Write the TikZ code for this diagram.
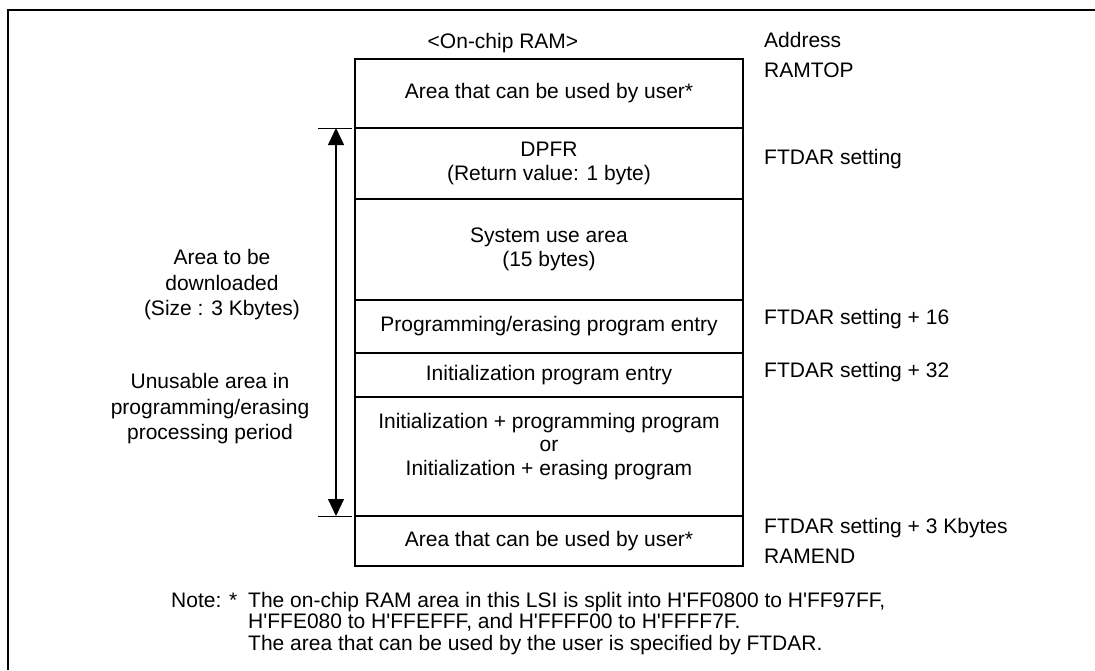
\documentclass[tikz,border=0pt]{standalone}
\usepackage{fontspec}
\setmainfont{Liberation Sans}
\usetikzlibrary{positioning,arrows.meta}

\newcommand{\haddr}[1]{H\textquotesingle#1}

\begin{document}
\begin{tikzpicture}[
  x=1pt, y=-1pt,
  every node/.style={font=\fontsize{21}{23.5}\selectfont, inner sep=0pt},
  row/.style={draw, line width=1.1pt, minimum width=388pt, outer sep=0pt,
              align=center},
  addr/.style={anchor=base west},
  side/.style={align=center, font=\fontsize{21}{25.5}\selectfont},
  dimarr/.style={{Triangle[length=17pt,width=16pt]}-{Triangle[length=17pt,width=16pt]},
                 line width=1.1pt},
  tick/.style={line width=0.9pt},
  frame/.style={line width=2.6pt}
]
  \useasboundingbox (0,0) rectangle (1095,670);
  \draw[frame] (8,670) -- (8,10) -- (1095,10);

  % RAM map
  \node[row, minimum height=69pt, anchor=north] (user1) at (549,59) {Area that can be used by user*};
  \node[row, minimum height=71pt, below=0pt of user1] (dpfr) {DPFR\\(Return value: 1 byte)};
  \node[row, minimum height=101pt, below=0pt of dpfr] (sysuse) {System use area\\(15 bytes)};
  \node[row, minimum height=53pt, below=0pt of sysuse] (pgentry) {Programming/erasing program entry};
  \node[row, minimum height=44pt, below=0pt of pgentry] (inentry) {Initialization program entry};
  \node[row, minimum height=119pt, below=0pt of inentry] (prog) {};
  \node[align=center] (progtxt) at ([yshift=10pt]prog.center)
    {Initialization + programming program\\or\\Initialization + erasing program};
  \node[row, minimum height=50pt, below=0pt of prog] (user2) {Area that can be used by user*};

  \node[anchor=base] (title) at (503,48) {<On-chip RAM>};

  % addresses
  \node[addr] (addrhd) at (764,47) {Address};
  \node[addr] (ramtop) at (764,77) {RAMTOP};
  \node[addr] (ftdar) at (764,164) {FTDAR setting};
  \node[addr] (ftdar16) at (764,324) {FTDAR setting + 16};
  \node[addr] (ftdar32) at (764,377) {FTDAR setting + 32};
  \node[addr] (ftdar3k) at (764,533) {FTDAR setting + 3 Kbytes};
  \node[addr] (ramend) at (764,563) {RAMEND};

  % download range
  \coordinate (dltop) at ([xshift=-19pt]dpfr.north west);
  \coordinate (dlbot) at ([xshift=-19pt]user2.north west);
  \draw[tick] ([xshift=-18pt]dltop) -- ([xshift=16pt]dltop);
  \draw[tick] ([xshift=-18pt]dlbot) -- ([xshift=16pt]dlbot);
  \draw[dimarr] (dltop) -- (dlbot);

  \node[side] (dlsize) at (222,285) {Area to be\\downloaded\\(Size : 3 Kbytes)};
  \node[side] (unusable) at (210,409) {Unusable area in\\programming/erasing\\processing period};

  % note
  \node[anchor=base west] (notehd) at (171,607) {Note: *};
  \node[anchor=north west, align=left, font=\fontsize{21}{21.5}\selectfont] (notetxt) at (248,592)
    {The on-chip RAM area in this LSI is split into \haddr{FF0800} to \haddr{FF97FF},\\
     \haddr{FFE080} to \haddr{FFEFFF}, and \haddr{FFFF00} to \haddr{FFFF7F}.\\
     The area that can be used by the user is specified by FTDAR.};
\end{tikzpicture}
\end{document}
